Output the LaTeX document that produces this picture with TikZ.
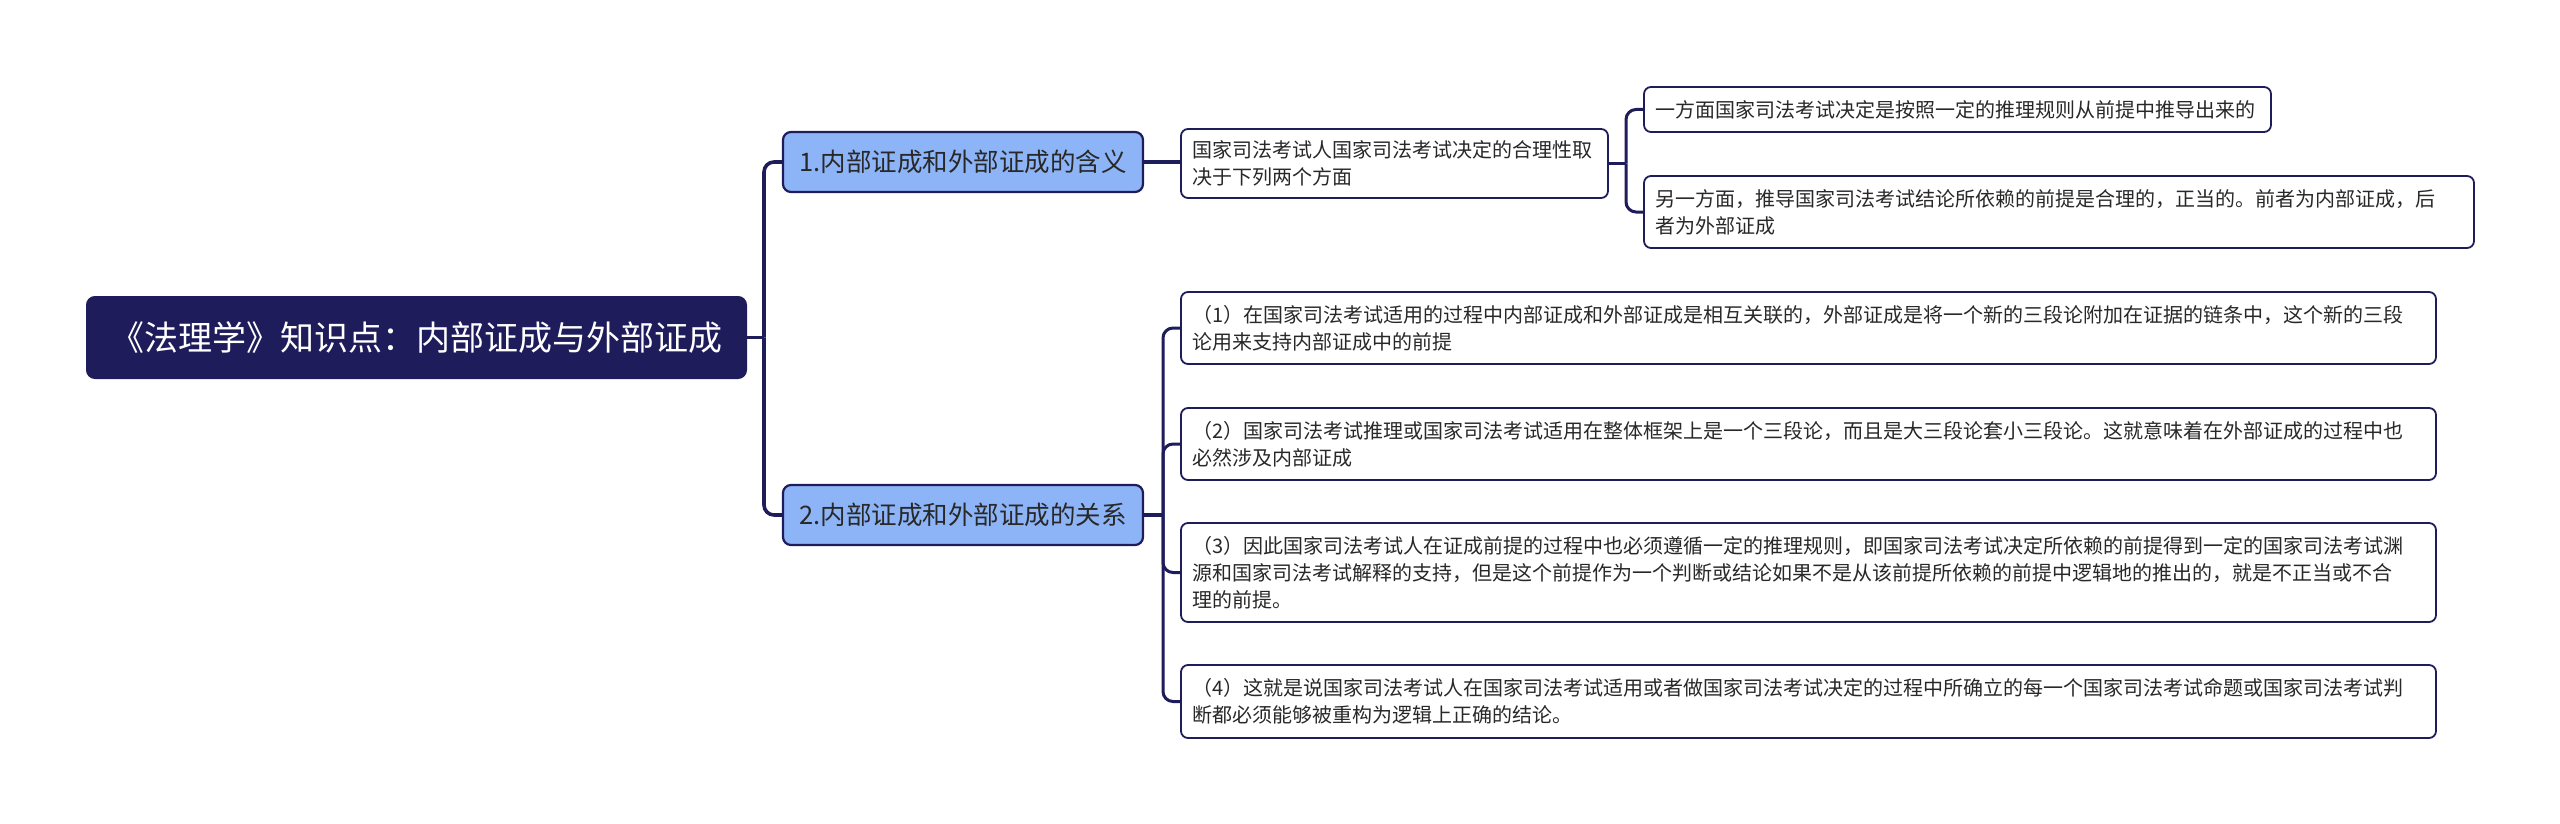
\documentclass[tikz,border=0pt]{standalone}
\usepackage{fontspec}
\setmainfont{Noto Sans CJK SC}
\definecolor{navy}{RGB}{30,28,90}
\definecolor{lblue}{RGB}{140,180,246}
\definecolor{txt}{RGB}{40,40,40}
\begin{document}
\begin{tikzpicture}[x=1pt,y=-1pt,
  rootbox/.style={draw=navy,fill=navy,line width=2pt,rounded corners=8pt,text=white,inner sep=0pt,
    minimum width=659pt,minimum height=81pt,font=\fontsize{34}{40}\selectfont},
  topic/.style={draw=navy,fill=lblue,line width=2.2pt,rounded corners=8pt,text=txt,inner sep=0pt,
    minimum width=360pt,minimum height=60pt,font=\fontsize{25.5}{30}\selectfont},
  leaf/.style={draw=navy,fill=white,line width=1.8pt,rounded corners=7pt,text=txt,inner xsep=11pt,inner ysep=0pt,
    align=left,font=\fontsize{20}{27}\selectfont},
  conn/.style={draw=navy,line width=3.6pt,rounded corners=10pt}
]
\useasboundingbox (0,0) rectangle (2560,824);

\node[rootbox] (root) at (416.5,337.5) {《法理学》知识点：内部证成与外部证成};

\node[topic] (t1) at (963,162) {1.内部证成和外部证成的含义};
\node[topic] (t2) at (963,515) {2.内部证成和外部证成的关系};

\node[leaf,text width=405pt,minimum height=69pt] (a) at (1394.5,163.5)
  {国家司法考试人国家司法考试决定的合理性取\\决于下列两个方面};
\node[leaf,text width=605pt,minimum height=45pt] (a1) at (1957.5,109.5)
  {一方面国家司法考试决定是按照一定的推理规则从前提中推导出来的};
\node[leaf,text width=808pt,minimum height=72pt] (a2) at (2059,212)
  {另一方面，推导国家司法考试结论所依赖的前提是合理的，正当的。前者为内部证成，后\\者为外部证成};

\node[leaf,text width=1233pt,minimum height=72pt] (b1) at (1808.5,328)
  {（1）在国家司法考试适用的过程中内部证成和外部证成是相互关联的，外部证成是将一个新的三段论附加在证据的链条中，这个新的三段\\论用来支持内部证成中的前提};
\node[leaf,text width=1233pt,minimum height=72pt] (b2) at (1808.5,444)
  {（2）国家司法考试推理或国家司法考试适用在整体框架上是一个三段论，而且是大三段论套小三段论。这就意味着在外部证成的过程中也\\必然涉及内部证成};
\node[leaf,text width=1233pt,minimum height=99pt] (b3) at (1808.5,572.5)
  {（3）因此国家司法考试人在证成前提的过程中也必须遵循一定的推理规则，即国家司法考试决定所依赖的前提得到一定的国家司法考试渊\\源和国家司法考试解释的支持，但是这个前提作为一个判断或结论如果不是从该前提所依赖的前提中逻辑地的推出的，就是不正当或不合\\理的前提。};
\node[leaf,text width=1233pt,minimum height=73pt] (b4) at (1808.5,701.5)
  {（4）这就是说国家司法考试人在国家司法考试适用或者做国家司法考试决定的过程中所确立的每一个国家司法考试命题或国家司法考试判\\断都必须能够被重构为逻辑上正确的结论。};

\coordinate (j0) at (764,337.5);
\draw[conn] (root.east) -- (j0);
\draw[conn] (j0) |- (t1.west);
\draw[conn] (j0) |- (t2.west);

\draw[conn] (t1.east) -- (t1.east -| a.west);
\coordinate (j1) at (1626,163.5);
\draw[conn,line width=3pt] (a.east) -- (j1);
\draw[conn,line width=3pt] (j1) |- (a1.west);
\draw[conn,line width=3pt] (j1) |- (a2.west);

\coordinate (j2) at (1163,515);
\draw[conn] (t2.east) -- (j2);
\draw[conn,line width=3pt] (j2) |- (b1.west);
\draw[conn,line width=3pt] (j2) |- (b2.west);
\draw[conn,line width=3pt] (j2) |- (b3.west);
\draw[conn,line width=3pt] (j2) |- (b4.west);
\end{tikzpicture}
\end{document}
